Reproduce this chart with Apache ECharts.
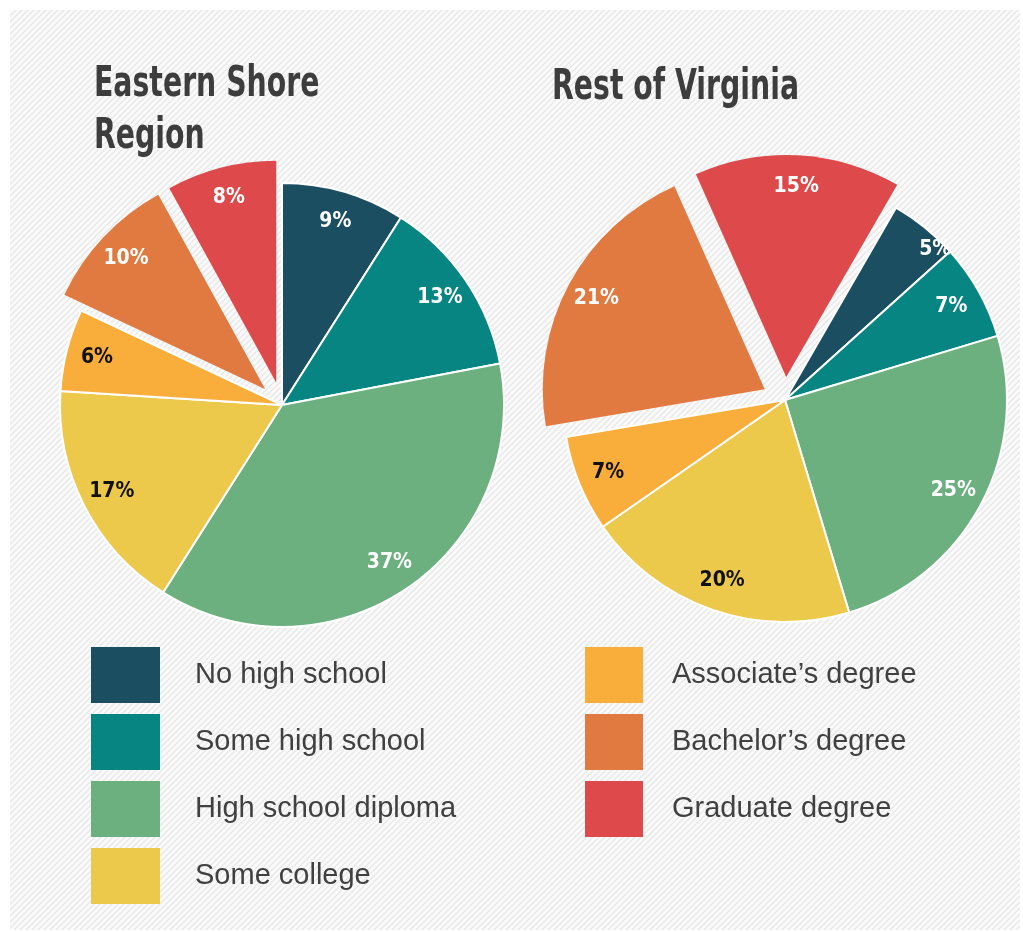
<!DOCTYPE html>
<html>
<head>
<meta charset="utf-8">
<script src="https://cdn.jsdelivr.net/npm/echarts@6/dist/echarts.min.js"></script>
<style>
  html, body { margin: 0; padding: 0; background: #fff; }
  #main { width: 1023px; height: 932px; }
</style>
</head>
<body>
<div id="main"></div>
<script>
// categories, clockwise from the first slice
var categories = [
  'No high school',
  'Some high school',
  'High school diploma',
  'Some college',
  'Associate’s degree',
  'Bachelor’s degree',
  'Graduate degree'
];
var easternShore = [9, 13, 37, 17, 6, 10, 8];
var restOfVirginia = [5, 7, 25, 20, 7, 21, 15];
// slices pulled out of the pie
var exploded = ['Bachelor’s degree', 'Graduate degree'];

var colors = ['#1b4e60', '#078583', '#6db07f', '#edc94b', '#f9ae3c', '#e07a40', '#de4a4c'];
var darkLabel = ['Some college', 'Associate’s degree'];

var condensed = "'Liberation Sans Narrow', 'DejaVu Sans Condensed', sans-serif";

// light diagonal hatching for the panel
function hatch() {
  var c = document.createElement('canvas');
  c.width = 6;
  c.height = 6;
  var ctx = c.getContext('2d');
  ctx.fillStyle = '#fafafa';
  ctx.fillRect(0, 0, 6, 6);
  ctx.strokeStyle = '#e8e8e8';
  ctx.lineWidth = 1.4;
  ctx.beginPath();
  ctx.moveTo(-1, 7); ctx.lineTo(7, -1);
  ctx.moveTo(-4, 4); ctx.lineTo(4, -4);
  ctx.moveTo(2, 10); ctx.lineTo(10, 2);
  ctx.stroke();
  return c;
}

function buildData(values, nudge) {
  return values.map(function (v, i) {
    var item = {
      name: categories[i],
      value: v,
      selected: exploded.indexOf(categories[i]) >= 0
    };
    if (nudge && nudge[i]) {
      item.label = { offset: nudge[i] };
    }
    return item;
  });
}

function pieSeries(values, center, startAngle, nudge) {
  var base = {
    type: 'pie',
    center: center,
    startAngle: startAngle,
    clockwise: true,
    selectedMode: 'multiple',
    selectedOffset: 23,
    animation: false,
    emphasis: { disabled: true },
    select: { itemStyle: { borderWidth: 0 } }
  };
  // slices
  var main = Object.assign({}, base, {
    radius: [0, 222],
    data: buildData(values),
    label: { show: false },
    labelLine: { show: false },
    itemStyle: { borderColor: '#fff', borderWidth: 2 }
  });
  // transparent ring carrying the labels further out
  var labels = Object.assign({}, base, {
    radius: [154, 222],
    silent: true,
    data: buildData(values, nudge),
    itemStyle: { color: 'rgba(0,0,0,0)', borderWidth: 0 },
    labelLine: { show: false },
    label: {
      show: true,
      position: 'inside',
      formatter: function (p) { return p.value + '%'; },
      fontFamily: condensed,
      fontWeight: 'bold',
      fontSize: 21,
      color: '#fff'
    }
  });
  labels.data.forEach(function (d) {
    if (darkLabel.indexOf(d.name) >= 0) {
      d.label = Object.assign({}, d.label, { color: '#111' });
    }
  });
  return [main, labels];
}

function titleText(text, x, y) {
  return {
    type: 'text',
    x: x,
    y: y,
    scaleX: 0.75,
    style: {
      text: text,
      fontFamily: condensed,
      fontWeight: 'bold',
      fontSize: 42,
      lineHeight: 52,
      fill: '#3d3d3d'
    }
  };
}

var chart = echarts.init(document.getElementById('main'));

function legendText(gap) {
  return {
    fontFamily: "'Liberation Sans', Arial, sans-serif",
    fontSize: 29,
    lineHeight: 32,
    color: '#404040',
    padding: [7, 0, 0, gap]
  };
}

var option = {
  color: colors,
  animation: false,
  graphic: [{
    type: 'rect',
    left: 10,
    top: 10,
    z: -10,
    shape: { width: 1010, height: 920 },
    style: { fill: { image: hatch(), repeat: 'repeat' } }
  },
    titleText('Eastern Shore\nRegion', 94, 59),
    titleText('Rest of Virginia', 552, 62)
  ],
  legend: [{
    orient: 'vertical',
    left: 91,
    top: 647,
    padding: 0,
    itemWidth: 69,
    itemHeight: 56,
    itemGap: 11,
    selectedMode: false,
    icon: 'rect',
    itemStyle: { borderWidth: 0 },
    data: categories.slice(0, 4),
    textStyle: legendText(30)
  }, {
    orient: 'vertical',
    left: 585,
    top: 647,
    padding: 0,
    itemWidth: 58,
    itemHeight: 56,
    itemGap: 11,
    selectedMode: false,
    icon: 'rect',
    itemStyle: { borderWidth: 0 },
    data: categories.slice(4),
    textStyle: legendText(24)
  }],
  series: [].concat(
    pieSeries(easternShore, [282, 405], 90),
    pieSeries(restOfVirginia, [785, 400], 60, [[30, -2]])
  )
};

chart.setOption(option);
</script>
</body>
</html>
